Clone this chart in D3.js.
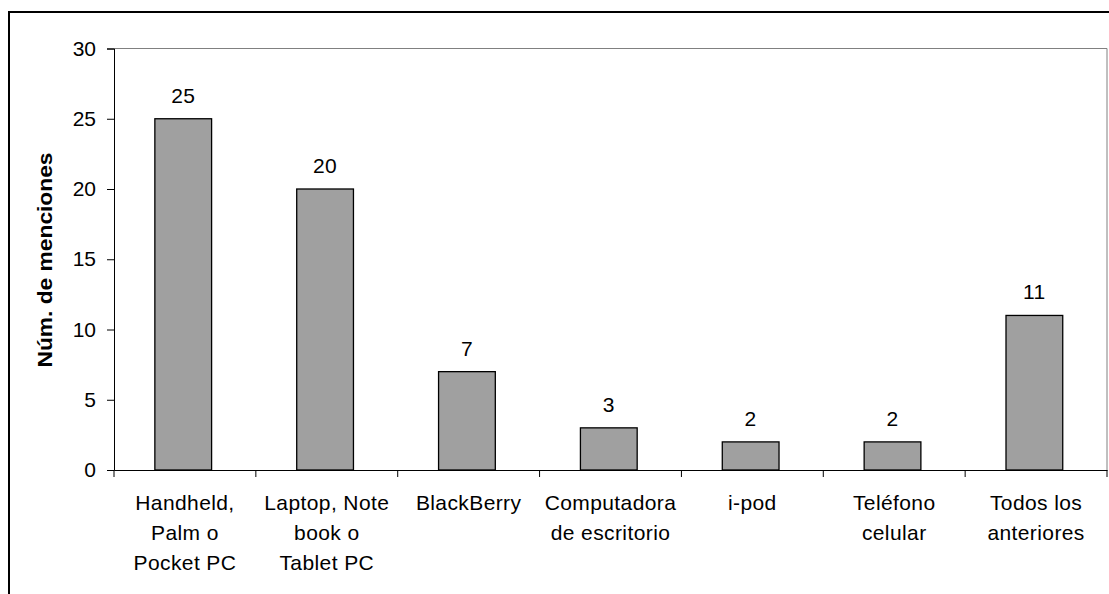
<!DOCTYPE html>
<html><head><meta charset="utf-8">
<script src="https://cdn.jsdelivr.net/npm/d3@7"></script>
<style>body{margin:0;background:#fff}svg{display:block}text{font-family:"Liberation Sans",Arial,sans-serif}</style>
</head><body>
<svg id="c" width="1109" height="594"></svg>
<script>
const categories = [
  ["Handheld,","Palm o","Pocket PC"],
  ["Laptop, Note","book o","Tablet PC"],
  ["BlackBerry"],
  ["Computadora","de escritorio"],
  ["i-pod"],
  ["Teléfono","celular"],
  ["Todos los","anteriores"]
];
const values = [25, 20, 7, 3, 2, 2, 11];
const yTicks = [0, 5, 10, 15, 20, 25, 30];
const yTitle = "Núm. de menciones";

const svg = d3.select("#c");
const L = 114, R = 1107, T = 48.5, B = 470;
const FS = 21;
const LS = 0.4;
const x = d3.scaleBand().domain(d3.range(categories.length)).range([L, R]).paddingInner(0.6).paddingOuter(0.3).align(0.48);
const band = d3.scaleBand().domain(d3.range(categories.length)).range([L, R]);
const y = d3.scaleLinear().domain([0, 30]).range([B, T]);

// outer border
svg.append("rect").attr("x", 9).attr("y", 12).attr("width", 1200).attr("height", 700)
  .attr("fill", "none").attr("stroke", "#000").attr("stroke-width", 2);

// plot area frame (top/right gray)
svg.append("path").attr("d", `M${L},${T}H${R}V${B}`).attr("fill","none").attr("stroke","#808080").attr("stroke-width",1);

// bars
svg.selectAll("rect.bar").data(values).join("rect").attr("class","bar")
  .attr("x", (d,i)=>x(i)).attr("width", x.bandwidth())
  .attr("y", d=>y(d)).attr("height", d=>B - y(d))
  .attr("fill", "#a0a0a0").attr("stroke", "#000").attr("stroke-width", 1.3);

// value labels
svg.selectAll("text.val").data(values).join("text").attr("class","val")
  .attr("x", (d,i)=>x(i)+x.bandwidth()/2).attr("y", d=>y(d)-16)
  .attr("text-anchor","middle").attr("font-size", FS).attr("letter-spacing", LS).text(d=>d);

// y axis
const yAxis = d3.axisLeft(y).tickValues(yTicks).tickSize(7).tickPadding(11);
const ga = svg.append("g").attr("transform", `translate(${L},0)`).call(yAxis);
ga.select(".domain").attr("stroke","#000");
ga.selectAll("line").attr("stroke","#000");
ga.selectAll("text").attr("font-size", FS).attr("fill","#000").attr("font-family","Liberation Sans, Arial, sans-serif");

// x axis
const xAxis = d3.axisBottom(band).tickSize(0).tickFormat("");
const gx = svg.append("g").attr("transform", `translate(0,${B})`).call(xAxis);
gx.select(".domain").attr("stroke","#000");
// category separator ticks
svg.selectAll("line.sep").data(d3.range(categories.length+1)).join("line").attr("class","sep")
  .attr("x1", i=> i<categories.length ? band(i) : R).attr("x2", i=> i<categories.length ? band(i) : R)
  .attr("y1", B).attr("y2", B+7).attr("stroke","#000");

// category labels
const cl = svg.selectAll("text.cat").data(categories).join("text").attr("class","cat")
  .attr("text-anchor","middle").attr("font-size", FS).attr("letter-spacing", LS);
cl.each(function(lines, i){
  d3.select(this).selectAll("tspan").data(lines).join("tspan")
    .attr("x", band(i)+band.bandwidth()/2).attr("y", (d,j)=>510 + j*30).text(d=>d);
});

// y title
svg.append("text").attr("transform", `translate(52,260) rotate(-90)`)
  .attr("text-anchor","middle").attr("font-size", FS).attr("font-weight","bold")
  .attr("textLength", 215).attr("lengthAdjust","spacingAndGlyphs").text(yTitle);
</script>
</body></html>
